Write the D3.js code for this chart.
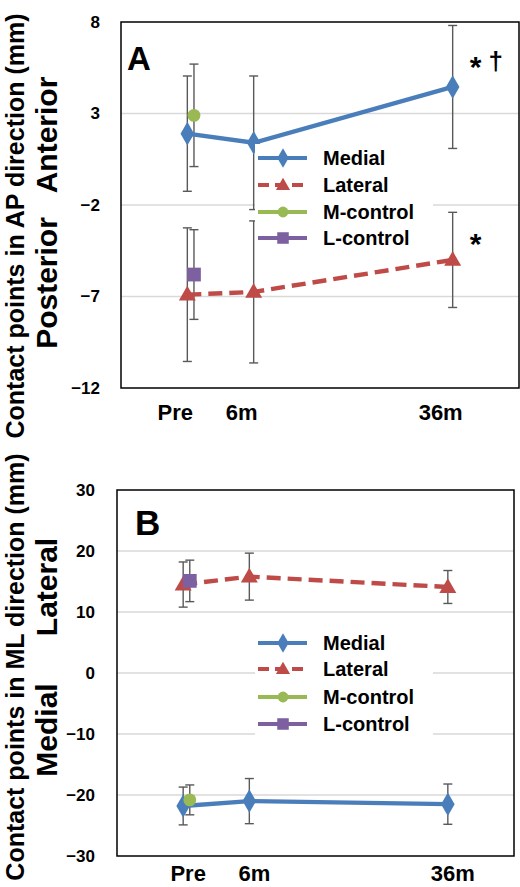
<!DOCTYPE html>
<html>
<head>
<meta charset="utf-8">
<script src="https://cdn.jsdelivr.net/npm/d3@7"></script>
<style>
  html, body { margin: 0; padding: 0; background: #fff; }
  svg { display: block; font-family: "Liberation Sans", Arial, sans-serif; }
</style>
</head>
<body>
<div id="chart"></div>
<script>
// ---------- data ----------
const categories = ["Pre", "6m", "36m"];
const catX = [1, 2, 5];          // x-axis position (time scale units)
const controlX = [1.1];          // controls plotted beside "Pre"
const seriesNames = ["Medial", "Lateral", "M-control", "L-control"];

// Panel A: AP direction
const apTicks = [8, 3, -2, -7, -12];
const apMedial = [1.9, 1.4, 4.45];
const apMedialErr = [3.15, 3.65, 3.36];
const apLateral = [-6.9, -6.75, -5.0];
const apLateralErr = [3.65, 3.88, 2.6];
const apMControl = [2.9];
const apMControlErr = [2.8];
const apLControl = [-5.8];
const apLControlErr = [2.45];

// Panel B: ML direction
const mlTicks = [30, 20, 10, 0, -10, -20, -30];
const mlMedial = [-21.8, -21.0, -21.5];
const mlMedialErr = [3.1, 3.7, 3.3];
const mlLateral = [14.5, 15.8, 14.1];
const mlLateralErr = [3.7, 3.85, 2.7];
const mlMControl = [-20.8];
const mlMControlErr = [2.45];
const mlLControl = [15.1];
const mlLControlErr = [3.4];

// ---------- styles ----------
const colors = { "Medial": "#4a7ebb", "Lateral": "#be4b48", "M-control": "#98b954", "L-control": "#7d60a0" };
const FONT = '"Liberation Sans", Arial, sans-serif';

const svg = d3.select("#chart").append("svg").attr("width", 520).attr("height", 887);

function markerPath(type, size) {
  const sym = { diamond: d3.symbolDiamond, triangle: d3.symbolTriangle, circle: d3.symbolCircle, square: d3.symbolSquare }[type];
  return d3.symbol().type(sym).size(size)();
}

function drawPanel(cfg) {
  const g = svg.append("g");
  const x = d3.scaleLinear().domain([0, 6]).range([cfg.left, cfg.right]);
  const y = d3.scaleLinear().domain([cfg.ticks[cfg.ticks.length - 1], cfg.ticks[0]]).range([cfg.bottom, cfg.top]);

  // gridlines
  g.append("g").selectAll("line").data(cfg.ticks.slice(1, -1)).join("line")
    .attr("x1", cfg.left).attr("x2", cfg.right)
    .attr("y1", d => y(d)).attr("y2", d => y(d))
    .attr("stroke", "#d9d9d9").attr("stroke-width", 1.3);

  // y axis tick labels
  const yAxis = d3.axisLeft(y).tickValues(cfg.ticks).tickSize(0).tickPadding(cfg.tickPad).tickFormat(d3.format("d"));
  const ya = g.append("g").attr("transform", `translate(${cfg.left},0)`).call(yAxis);
  ya.select(".domain").remove();
  ya.selectAll("text").attr("font-family", FONT).attr("font-size", 17).attr("font-weight", "bold").attr("fill", "#000");

  // x labels
  g.append("g").selectAll("text").data(categories).join("text")
    .attr("x", (d, i) => x(catX[i]) + cfg.xLabelShift)
    .attr("y", cfg.xLabelY)
    .attr("text-anchor", "middle")
    .attr("font-family", FONT).attr("font-size", 22).attr("font-weight", "bold")
    .text(d => d);

  const series = [
    { name: "Medial", xs: catX, v: cfg.medial, e: cfg.medialErr, marker: "diamond", msize: 160, dash: null },
    { name: "Lateral", xs: catX, v: cfg.lateral, e: cfg.lateralErr, marker: "triangle", msize: 125, dash: "14,7" },
    { name: "M-control", xs: controlX, v: cfg.mcontrol, e: cfg.mcontrolErr, marker: "circle", msize: 130, dash: null },
    { name: "L-control", xs: controlX, v: cfg.lcontrol, e: cfg.lcontrolErr, marker: "square", msize: 190, dash: null }
  ];

  // error bars
  series.forEach(s => {
    const eg = g.append("g");
    s.v.forEach((v, i) => {
      const cx = x(s.xs[i]);
      const y1 = y(v + s.e[i]), y2 = y(v - s.e[i]);
      eg.append("line").attr("x1", cx).attr("x2", cx).attr("y1", y1).attr("y2", y2).attr("stroke", "#595959").attr("stroke-width", 1.4);
      [y1, y2].forEach(yy => eg.append("line").attr("x1", cx - 4.5).attr("x2", cx + 4.5).attr("y1", yy).attr("y2", yy).attr("stroke", "#595959").attr("stroke-width", 1.4));
    });
  });

  // lines + markers
  series.forEach(s => {
    const pts = s.v.map((v, i) => [x(s.xs[i]), y(v)]);
    if (pts.length > 1) {
      g.append("path").attr("d", d3.line()(pts)).attr("fill", "none")
        .attr("stroke", colors[s.name]).attr("stroke-width", 4.4)
        .attr("stroke-dasharray", s.dash);
    }
    g.append("g").selectAll("path").data(pts).join("path")
      .attr("transform", d => `translate(${d[0]},${d[1] + (s.marker === "triangle" ? 1 : 0)})`)
      .attr("d", markerPath(s.marker, s.msize))
      .attr("fill", colors[s.name]);
  });

  // frame
  g.append("rect").attr("x", cfg.left).attr("y", cfg.top)
    .attr("width", cfg.right - cfg.left).attr("height", cfg.bottom - cfg.top)
    .attr("fill", "none").attr("stroke", "#000").attr("stroke-width", 1.5);

  // legend
  const lg = g.append("g");
  lg.append("rect").attr("x", cfg.legendX).attr("y", cfg.legendRows[0] - 14)
    .attr("width", 178).attr("height", cfg.legendRows[3] - cfg.legendRows[0] + 26).attr("fill", "#fff");
  seriesNames.forEach((name, i) => {
    const s = series[i];
    const ry = cfg.legendRows[i];
    lg.append("line").attr("x1", 258).attr("x2", 307).attr("y1", ry).attr("y2", ry)
      .attr("stroke", colors[name]).attr("stroke-width", 4.2)
      .attr("stroke-dasharray", name === "Lateral" ? "11,6" : null);
    lg.append("path").attr("transform", `translate(283,${ry + (s.marker === "triangle" ? 1 : 0)})`)
      .attr("d", markerPath(s.marker, s.msize * 0.7)).attr("fill", colors[name]);
    lg.append("text").attr("x", 323).attr("y", ry + 7)
      .attr("font-family", FONT).attr("font-size", 20).attr("font-weight", "bold").text(name);
  });

  // panel letter
  g.append("text").attr("x", cfg.letterX).attr("y", cfg.letterY)
    .attr("font-family", FONT).attr("font-size", cfg.letterSize).attr("font-weight", "bold").text(cfg.letter);

  // axis titles
  g.append("text").attr("transform", `translate(${cfg.titleX},${cfg.titleY}) rotate(-90)`)
    .attr("text-anchor", "middle").attr("font-family", FONT).attr("font-size", 25).attr("font-weight", "bold")
    .text(cfg.title);
  cfg.dirLabels.forEach(dl => {
    g.append("text").attr("transform", `translate(${dl.x},${dl.y}) rotate(-90)`)
      .attr("text-anchor", "middle").attr("font-family", FONT).attr("font-size", 30).attr("font-weight", "bold")
      .text(dl.text);
  });
  return { g, x, y };
}

const A = drawPanel({
  left: 121, right: 519, top: 22, bottom: 388, tickPad: 21,
  ticks: apTicks, xLabelY: 420, xLabelShift: -12,
  medial: apMedial, medialErr: apMedialErr, lateral: apLateral, lateralErr: apLateralErr,
  mcontrol: apMControl, mcontrolErr: apMControlErr, lcontrol: apLControl, lcontrolErr: apLControlErr,
  legendX: 255, legendRows: [158, 185, 212, 238],
  letter: "A", letterX: 127, letterY: 70, letterSize: 33,
  title: "Contact points in AP direction (mm)", titleX: 24, titleY: 226,
  dirLabels: [{ text: "Anterior", x: 57, y: 135 }, { text: "Posterior", x: 57, y: 283 }]
});

// significance marks (panel A)
A.g.append("text").attr("x", A.x(5) + 23).attr("y", 77).attr("text-anchor", "middle")
  .attr("font-family", FONT).attr("font-size", 30).attr("font-weight", "bold").text("*");
A.g.append("text").attr("x", A.x(5) + 43).attr("y", 70).attr("text-anchor", "middle")
  .attr("font-family", FONT).attr("font-size", 26).attr("font-weight", "bold").text("†");
A.g.append("text").attr("x", A.x(5) + 23).attr("y", 254).attr("text-anchor", "middle")
  .attr("font-family", FONT).attr("font-size", 30).attr("font-weight", "bold").text("*");

drawPanel({
  left: 117, right: 514, top: 490, bottom: 856, tickPad: 22,
  ticks: mlTicks, xLabelY: 881, xLabelShift: 5,
  medial: mlMedial, medialErr: mlMedialErr, lateral: mlLateral, lateralErr: mlLateralErr,
  mcontrol: mlMControl, mcontrolErr: mlMControlErr, lcontrol: mlLControl, lcontrolErr: mlLControlErr,
  legendX: 255, legendRows: [643, 669, 697, 724],
  letter: "B", letterX: 135, letterY: 535, letterSize: 35,
  title: "Contact points in ML direction (mm)", titleX: 24, titleY: 667,
  dirLabels: [{ text: "Lateral", x: 57, y: 587 }, { text: "Medial", x: 57, y: 730 }]
});
</script>
</body>
</html>
